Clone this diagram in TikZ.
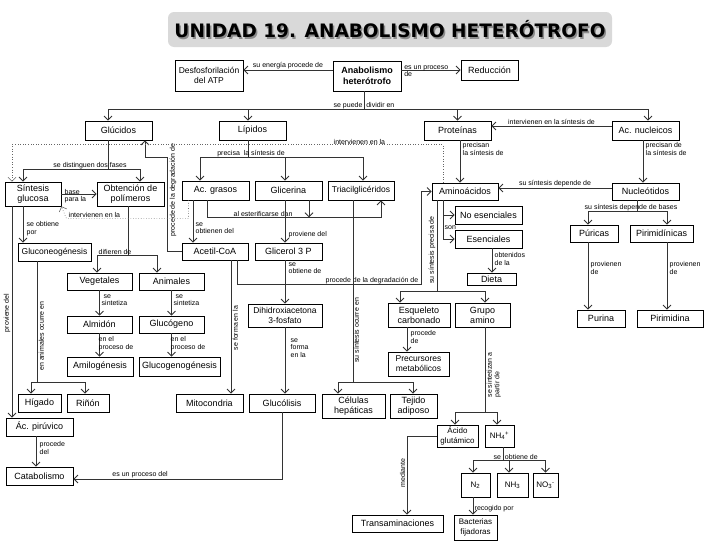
\documentclass[tikz,border=0pt]{standalone}
\usepackage{fontspec}
\setmainfont{Liberation Sans}
\newfontfamily\titlefont{DejaVu Sans}
\usetikzlibrary{arrows.meta,calc}

\tikzset{
  box/.style={draw, line width=0.7pt, fill=white, inner sep=0.5pt, align=center,
    font=\fontsize{9}{10}\selectfont, minimum width=67pt, minimum height=18pt},
  wh/.style 2 args={minimum width=#1pt, minimum height=#2pt},
  link/.style={draw=black!80, line width=0.9pt},
  arr/.style={link, -{Straight Barb[length=4pt,width=8pt]}},
  dots/.style={arr, draw=black!60, line width=0.6pt, dotted},
  lbl/.style={font=\fontsize{7}{7.5}\selectfont, inner sep=0.5pt, align=left},
}

\begin{document}
\begin{tikzpicture}[x=1pt, y=-1pt]
\useasboundingbox (0,0) rectangle (728,546);

% titulo
\node[draw=none, fill=black!15, rounded corners=6pt, wh={444}{35}] (titlebox) at (390,29.5) {};
\node[text=black!45, font=\titlefont\bfseries\fontsize{18.5}{20}\selectfont] (titleshadow) at (391.5,31) {UNIDAD 19. ANABOLISMO HETERÓTROFO};
\node[font=\titlefont\bfseries\fontsize{18.5}{20}\selectfont] (titletext) at (390,29.5) {UNIDAD 19. ANABOLISMO HETERÓTROFO};

% fila superior
\node[box, wh={68}{31}, font=\fontsize{8.5}{10}\selectfont] (desfos) at (209,75.5) {Desfosforilación\\del ATP};
\node[box, wh={68}{30}, font=\bfseries\fontsize{9}{10.5}\selectfont] (anab) at (367,76) {Anabolismo\\heterótrofo};
\node[box, wh={57}{20}] (reduc) at (489.5,70) {Reducción};

\node[box, wh={67}{19}] (glucidos) at (118.5,130.5) {Glúcidos};
\node[box, wh={67}{19}] (lipidos) at (252.5,130.5) {Lípidos};
\node[box, wh={67}{19}] (proteinas) at (457.5,130.5) {Proteínas};
\node[box, wh={67}{19}] (acnuc) at (645.5,130.5) {Ac. nucleicos};

% glucidos
\node[box, wh={56}{24}] (sintesis) at (33,194) {Síntesis\\glucosa};
\node[box, wh={67}{24}] (obtencion) at (130.5,194) {Obtención de\\polímeros};
\node[box, wh={73}{18}, font=\fontsize{8.5}{10}\selectfont] (gluconeo) at (54.5,252) {Gluconeogénesis};
\node[box, wh={65}{17}] (vegetales) at (99.5,281.5) {Vegetales};
\node[box, wh={65}{17}] (animales) at (171.5,281.5) {Animales};
\node[box, wh={65}{17}] (almidon) at (99.5,324.5) {Almidón};
\node[box, wh={65}{17}] (glucogeno) at (171.5,324.5) {Glucógeno};
\node[box, wh={66}{19}] (amilog) at (100,366.5) {Amilogénesis};
\node[box, wh={81}{19}] (glucogenog) at (179.5,366.5) {Glucogenogénesis};
\node[box, wh={43}{18}] (higado) at (39.5,403) {Hígado};
\node[box, wh={42}{18}] (rinon) at (88,403) {Riñón};
\node[box, wh={67}{18}] (pyruv) at (39.5,427) {Ác. pirúvico};
\node[box, wh={67}{18}] (catab) at (39.5,476) {Catabolismo};

% lipidos
\node[box, wh={67}{19}] (acgrasos) at (215.5,190.5) {Ac. grasos};
\node[box, wh={67}{19}] (glicerina) at (288.5,190.5) {Glicerina};
\node[box, wh={66}{19}, font=\fontsize{8.5}{10}\selectfont] (triacil) at (361,190.5) {Triacilglicéridos};
\node[box, wh={66}{17}] (acetil) at (215,251.5) {Acetil-CoA};
\node[box, wh={67}{17}] (glicerol) at (288.5,251.5) {Glicerol 3 P};
\node[box, wh={74}{23}, font=\fontsize{8.5}{10}\selectfont] (dihidroxi) at (285,315.5) {Dihidroxiacetona\\3-fosfato};
\node[box, wh={67}{18}] (mitocondria) at (209.5,403) {Mitocondria};
\node[box, wh={66}{18}] (glucolisis) at (282,403) {Glucólisis};
\node[box, wh={63}{24}] (celulas) at (353.5,406) {Células\\hepáticas};
\node[box, wh={47}{24}] (tejido) at (413.5,406) {Tejido\\adiposo};

% proteinas
\node[box, wh={66}{17}] (aminoac) at (465,191.5) {Aminoácidos};
\node[box, wh={67}{18}] (noesenc) at (488.5,215) {No esenciales};
\node[box, wh={67}{18}] (esenc) at (488.5,239) {Esenciales};
\node[box, wh={49}{12}] (dieta) at (491.5,279) {Dieta};
\node[box, wh={62}{24}] (esqueleto) at (419,315) {Esqueleto\\carbonado};
\node[box, wh={55}{24}] (grupo) at (482.5,315) {Grupo\\amino};
\node[box, wh={61}{24}, font=\fontsize{8.5}{10}\selectfont] (precursores) at (418.5,364) {Precursores\\metabólicos};
\node[box, wh={41}{22}, font=\fontsize{8}{9.5}\selectfont] (glutamico) at (457.5,436) {Ácido\\glutámico};
\node[box, wh={29}{22}, font=\fontsize{8}{9.5}\selectfont] (nh4) at (499.5,436) {NH\textsubscript{4}\textsuperscript{+}};
\node[box, wh={29}{24}, font=\fontsize{8}{9.5}\selectfont] (n2) at (475.5,485) {N\textsubscript{2}};
\node[box, wh={31}{24}, font=\fontsize{8}{9.5}\selectfont] (nh3) at (512.5,485) {NH\textsubscript{3}};
\node[box, wh={25}{24}, font=\fontsize{8}{9.5}\selectfont] (no3) at (545.5,485) {NO\textsubscript{3}\textsuperscript{-}};
\node[box, wh={43}{25}, font=\fontsize{8}{9.5}\selectfont] (bacterias) at (475.5,527.5) {Bacterias\\fijadoras};
\node[box, wh={91}{17}] (transam) at (397.5,523.5) {Transaminaciones};

% ac. nucleicos
\node[box, wh={67}{17}] (nucleot) at (645.5,191.5) {Nucleótidos};
\node[box, wh={48}{17}] (puricas) at (594,233.5) {Púricas};
\node[box, wh={63}{17}] (pirimidinicas) at (661.5,233.5) {Pirimidínicas};
\node[box, wh={48}{17}] (purina) at (601,318.5) {Purina};
\node[box, wh={66}{17}] (pirimidina) at (670,318.5) {Pirimidina};

% conectores superiores
\draw[arr] ([yshift=6pt]anab.west) -- node[lbl, above] {su energía procede de} ([yshift=5.5pt]desfos.east);
\draw[arr] (anab.east |- reduc.west) -- node[lbl, pos=0, anchor=north west, xshift=2pt, yshift=5.5pt] {es un proceso\\de} (reduc.west);
\draw[link] ([xshift=-3pt]anab.south) -- ++(0,18) coordinate (div);
\node[lbl, anchor=south] (l-div) at (div) {se puede\ \ dividir en};
\draw[arr] (div) -| ([xshift=-10.5pt]glucidos.north);
\draw[arr] (div) -| ([xshift=-4.5pt]lipidos.north);
\draw[arr] (div) -| (proteinas.north);
\draw[arr] (div) -| ([xshift=2.5pt]acnuc.north);

% glucidos
\draw[link] ([xshift=-10.5pt]glucidos.south) -- ++(0,29) coordinate (fases);
\node[lbl, anchor=south] (l-fases) at ([xshift=-18pt]fases) {se distinguen dos fases};
\draw[arr] (fases) -| ([xshift=-10pt]sintesis.north);
\draw[arr] (fases) -| ([xshift=9.5pt]obtencion.north);
\draw[arr] (sintesis.east) -- (obtencion.west);
\node[lbl, anchor=north west] (l-base) at (64,188.5) {base\\para la};
\draw[arr] ([xshift=-10pt]sintesis.south) -- ([xshift=-10pt]sintesis.south |- gluconeo.north);
\node[lbl, anchor=north west] (l-obtpor) at (26,221) {se obtiene\\por};
\draw[arr] ([xshift=-21pt]sintesis.south) -- ([xshift=-21pt]sintesis.south |- pyruv.north);
\node[lbl, rotate=90, anchor=south] (l-proviene) at (11,313) {proviene del};
\draw[link] ([xshift=-17.5pt]gluconeo.south) -- ++(0,121) coordinate (anim);
\node[lbl, rotate=90, anchor=north] (l-anim) at (38,336) {en animales ocurre en};
\draw[arr] (anim) -| ([xshift=-8.5pt]higado.north);
\draw[arr] (anim) -| ([xshift=-3pt]rinon.north);
\draw[link] ([xshift=-2.5pt]obtencion.south) -- ++(0,49) coordinate (dif);
\node[lbl, anchor=south west] (l-dif) at ([xshift=-30pt]dif) {difieren de};
\draw[arr] (dif) -| ([xshift=-2.5pt]vegetales.north);
\draw[arr] (dif) -| ([xshift=-14.5pt]animales.north);
\draw[arr] (vegetales.south) -- (almidon.north);
\node[lbl, anchor=north west] (l-sint1) at (101,294) {\ se\\sintetiza};
\draw[arr] (animales.south) -- (glucogeno.north);
\node[lbl, anchor=north west] (l-sint2) at (173,294) {\ se\\sintetiza};
\draw[arr] (almidon.south) -- (almidon.south |- amilog.north);
\node[lbl, anchor=north west] (l-proc1) at (98,336) {en el\\proceso de};
\draw[arr] (glucogeno.south) -- (glucogeno.south |- glucogenog.north);
\node[lbl, anchor=north west] (l-proc2) at (170,336) {en el\\proceso de};
\draw[arr] ([xshift=-3.5pt]pyruv.south) -- ([xshift=-3.5pt]pyruv.south |- catab.north);
\node[lbl, anchor=north west] (l-procdel) at (39,441) {procede\\del};
\draw[arr] (glucolisis.south) |- node[lbl, pos=0.84, above] {es un proceso del} ([yshift=-3pt]catab.east);

% lipidos
\draw[link] ([xshift=-4.5pt]lipidos.south) -- ++(0,17) coordinate (prec);
\node[lbl, anchor=south] (l-prec) at ([xshift=3pt]prec) {precisa\ \ la síntesis de};
\draw[arr] (prec) -| ([xshift=-15.5pt]acgrasos.north);
\draw[arr] (prec) -| ([xshift=-3.5pt]glicerina.north);
\draw[arr] (prec) -| ([xshift=2pt]triacil.north);
\draw[link] ([xshift=-8.5pt]acgrasos.south) -- ++(0,17) coordinate (ester);
\draw[arr] (ester) -| ([xshift=20pt]triacil.south);
\node[lbl, anchor=south west] (l-ester) at ([xshift=26pt]ester) {al esterificarse dan};
\draw[arr] ([xshift=20.5pt]glicerina.south) -- ++(0,17);
\draw[arr] ([xshift=-22.5pt]acgrasos.south) -- ([xshift=-22.5pt]acgrasos.south |- acetil.north);
\node[lbl, anchor=north west] (l-obtdel) at (195,222) {se\\obtienen del};
\draw[arr] ([xshift=-3.5pt]glicerina.south) -- ([xshift=-3.5pt]glicerina.south |- glicerol.north);
\node[lbl, anchor=north west] (l-provdel) at (288,231) {proviene del};
\draw[arr] ([xshift=-3.5pt]glicerol.south) -- ([xshift=-3.5pt]glicerol.south |- dihidroxi.north);
\node[lbl, anchor=north west] (l-obtde) at (288,262) {se\\obtiene de};
\draw[arr] (dihidroxi.south) -- (dihidroxi.south |- glucolisis.north);
\node[lbl, anchor=north west] (l-forma) at (290,338) {se\\forma\\en la};
\draw[arr] ([xshift=16pt]acetil.south) -- ([xshift=16pt]acetil.south |- mitocondria.north);
\node[lbl, rotate=90, anchor=north] (l-formaen) at (232,328) {se forma en la};
\draw[arr] (acetil.west) -- ++(-14,0) -- ++(0,-94.5) -| ([xshift=26.5pt]glucidos.south);
\node[lbl, rotate=90, anchor=north] (l-degr1) at (169,190) {procede de la degradación de};
\draw[arr] ([xshift=22pt]acetil.south) -- ++(0,24) -- ++(184,0) coordinate (degr) |- (aminoac.west);
\node[lbl, anchor=south east] (l-degr2) at ([xshift=-2pt]degr) {procede de la degradación de};
\draw[link] ([xshift=-8pt]triacil.south) -- ++(0,182) coordinate (ocurre);
\node[lbl, rotate=90, anchor=north] (l-ocurre) at ([yshift=52pt]ocurre) {su síntesis ocurre en};
\draw[arr] (ocurre) -| ([xshift=-15.5pt]celulas.north);
\draw[arr] (ocurre) -| ([xshift=-0.5pt]tejido.north);

% proteinas
\draw[arr] ([xshift=2.5pt]proteinas.south) -- ([xshift=2.5pt]proteinas.south |- aminoac.north);
\node[lbl, anchor=north west] (l-precisan) at (462,142) {precisan\\la síntesis de};
\draw[arr] ([yshift=4.5pt]acnuc.west) -- node[lbl, above] {intervienen en la síntesis de} ([yshift=4.5pt]acnuc.west -| proteinas.east);
\draw[arr] ([xshift=-22pt]aminoac.south) |- (noesenc.west);
\draw[arr] ([xshift=-22pt]aminoac.south) |- (esenc.west);
\node[lbl, anchor=north west] (l-son) at (444,225) {son};
\draw[arr] ([xshift=3.5pt]esenc.south) -- ([xshift=3.5pt]esenc.south |- dieta.north);
\node[lbl, anchor=north west] (l-dieta) at (494,252) {obtenidos\\de la};
\draw[link] ([xshift=-28pt]aminoac.south) -- ++(0,91) coordinate (precisa);
\node[lbl, rotate=90, anchor=south] (l-precisa) at (436,250) {su síntesis precisa de};
\draw[arr] (precisa) -| ([xshift=-19pt]esqueleto.north);
\draw[arr] (precisa) -| ([xshift=2.5pt]grupo.north);
\draw[arr] ([xshift=-12pt]esqueleto.south) -- ([xshift=-12pt]esqueleto.south |- precursores.north);
\node[lbl, anchor=north west] (l-procede) at (410,330) {procede\\de};
\draw[link] ([xshift=2.5pt]grupo.south) -- ++(0,85) coordinate (partir);
\node[lbl, rotate=90, anchor=north] (l-partir) at (486,375) {se sintetizan a\\partir de};
\draw[arr] (partir) -| ([xshift=-2.5pt]glutamico.north);
\draw[arr] (partir) -| ([xshift=-2.5pt]nh4.north);
\draw[arr] (glutamico.west) -| ([xshift=9.5pt]transam.north);
\node[lbl, rotate=90, anchor=south] (l-mediante) at (406,473) {mediante};
\draw[link] ([xshift=3.5pt]nh4.south) -- ++(0,13) coordinate (obt);
\node[lbl, anchor=south west] (l-obt) at ([xshift=-10pt]obt) {se\ \ obtiene de};
\draw[arr] (obt) -| ([xshift=-2.5pt]n2.north);
\draw[arr] (obt) -| ([xshift=-3.5pt]nh3.north);
\draw[arr] (obt) -| (no3.north);
\draw[arr] ([xshift=-2.5pt]n2.south) -- ([xshift=-2.5pt]n2.south |- bacterias.north);
\node[lbl, anchor=west] (l-recog) at (474,509) {recogido por};

% ac. nucleicos
\draw[arr] ([xshift=-2.5pt]acnuc.south) -- ([xshift=-2.5pt]acnuc.south |- nucleot.north);
\node[lbl, anchor=north west] (l-precde) at (645,142) {precisan de\\la síntesis de};
\draw[arr] ([yshift=3.5pt]nucleot.west) -- node[lbl, above] {su síntesis depende de} ([yshift=3.5pt]nucleot.west -| aminoac.east);
\draw[link] ([xshift=-8.5pt]nucleot.south) -- ++(0,11) coordinate (bases);
\node[lbl, anchor=south] (l-bases) at ([xshift=-6pt]bases) {su síntesis depende de bases};
\draw[arr] (bases) -| ([xshift=-6pt]puricas.north);
\draw[arr] (bases) -| ([xshift=5.5pt]pirimidinicas.north);
\draw[arr] ([xshift=-6pt]puricas.south) -- ([xshift=-6pt]puricas.south |- purina.north);
\node[lbl, anchor=north west] (l-prov1) at (590,261) {provienen\\de};
\draw[arr] ([xshift=5.5pt]pirimidinicas.south) -- ([xshift=5.5pt]pirimidinicas.south |- pirimidina.north);
\node[lbl, anchor=north west] (l-prov2) at (669,261) {provienen\\de};

% intervienen (punteado)
\draw[dots] ([xshift=-22pt]aminoac.north) -- ++(0,-38) -| ([xshift=-21pt]sintesis.north);
\node[lbl, anchor=south west] (l-interv1) at (333,145) {intervienen en la};
\draw[dots] ([xshift=-27pt]acgrasos.south) |- ([xshift=5pt,yshift=-12pt]sintesis.south east) -- (sintesis.south east);
\node[lbl, anchor=south west] (l-interv2) at (68,218) {intervienen en la};
\end{tikzpicture}
\end{document}
